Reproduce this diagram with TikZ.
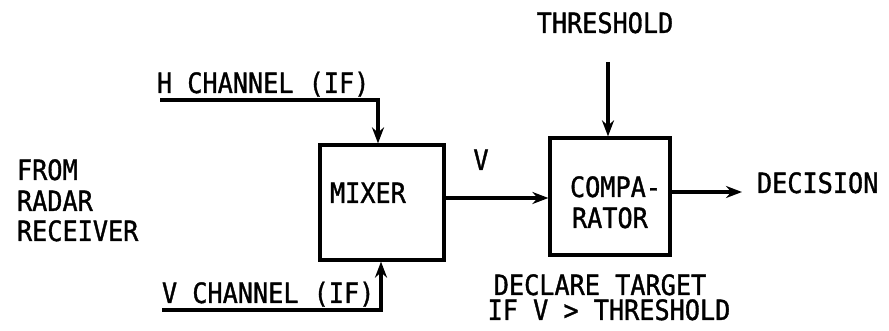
\documentclass[tikz,border=0pt]{standalone}
\usepackage{fontspec}
\newfontfamily\labelfont[FakeStretch=0.9,FakeBold=1.2]{DejaVu Sans Mono}
\usetikzlibrary{arrows.meta}
\begin{document}
\begin{tikzpicture}[x=0.5pt,y=-0.5pt,
  lbl/.style={inner sep=0pt,outer sep=0pt,font=\labelfont\fontsize{14}{15}\selectfont},
  blockbox/.style={draw,line width=1.6pt,inner sep=0pt},
  wire/.style={line width=1.6pt},
  arr/.style={wire,-{Stealth[length=8pt,width=6pt]}}]
\useasboundingbox (0,0) rectangle (889,331);
% blocks
\node[blockbox,minimum width=62pt,minimum height=57.5pt] (mixer) at (382,202.5) {};
\node[blockbox,minimum width=60pt,minimum height=58.5pt] (comp) at (610,196.5) {};
% texts
\node[lbl,anchor=base west] (mixtxt) at (330,203) {MIXER};
\node[lbl,anchor=base west] (comp1) at (570,197) {COMPA-};
\node[lbl,anchor=base west] (comp2) at (572,228) {RATOR};
\node[lbl,anchor=base] (thr) at (605,33) {THRESHOLD};
\node[lbl,anchor=base] (vlbl) at (481,170) {V};
\node[lbl,anchor=base west] (dec) at (757,193) {DECISION};
\node[lbl,anchor=base] (decl1) at (600,295) {DECLARE TARGET};
\node[lbl,anchor=base] (decl2) at (609,320) {IF V > THRESHOLD};
\node[lbl,anchor=base west] (hch) at (157,93) {H CHANNEL (IF)};
\node[lbl,anchor=base west] (vch) at (162,303) {V CHANNEL (IF)};
\node[lbl,anchor=base west] (from1) at (17,180) {FROM};
\node[lbl,anchor=base west] (from2) at (17,211) {RADAR};
\node[lbl,anchor=base west] (from3) at (17,241) {RECEIVER};
% coordinates
\coordinate (hstart) at (160,100);
\coordinate (hcorner) at (378,100);
\coordinate (vstart) at (162,310);
\coordinate (vcorner) at (381,310);
\coordinate (thrtop) at (608,62);
\coordinate (vy) at (0,198);
\coordinate (decend) at (742,192);
% connectors
\draw[arr] (hstart) -- (hcorner) -- (hcorner |- mixer.north);
\draw[arr] (vstart) -- (vcorner) -- (vcorner |- mixer.south);
\draw[arr] (thrtop) -- (thrtop |- comp.north);
\draw[arr] (mixer.east |- vy) -- (comp.west |- vy);
\draw[arr] (comp.east |- decend) -- (decend);
\end{tikzpicture}
\end{document}
